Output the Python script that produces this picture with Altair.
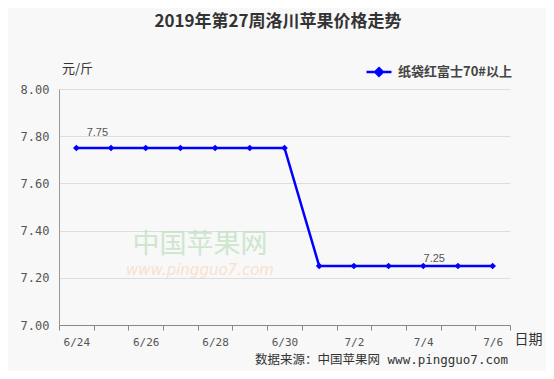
import altair as alt
import pandas as pd

dates = ["6/24", "6/25", "6/26", "6/27", "6/28", "6/29", "6/30",
         "7/1", "7/2", "7/3", "7/4", "7/5", "7/6"]
prices = [7.75, 7.75, 7.75, 7.75, 7.75, 7.75, 7.75,
          7.25, 7.25, 7.25, 7.25, 7.25, 7.25]
value_labels = ["7.75", "", "", "", "", "", "", "", "", "", "7.25", "", ""]
series_name = "纸袋红富士70#以上"
y_ticks = [7.0, 7.2, 7.4, 7.6, 7.8, 8.0]

title_text = "2019年第27周洛川苹果价格走势"
source_text = "数据来源：中国苹果网 www.pingguo7.com"
wm_cn = "中国苹果网"
wm_url = "www.pingguo7.com"

df = pd.DataFrame({"date": dates, "price": prices, "label": value_labels,
                   "series": [series_name] * len(dates)})

BLUE = "#0000ff"
CJK = "Noto Sans CJK SC"
MONO = "DejaVu Sans Mono"

x_enc = alt.X(
    "date:N", sort=dates, bandPosition=0.5,
    scale=alt.Scale(type="band", paddingInner=0, paddingOuter=0),
    axis=alt.Axis(
        title="日期", titleX=469, titleY=14, titleAngle=0,
        titleAlign="center", titleBaseline="middle",
        titleFont=CJK, titleFontSize=14, titleFontWeight="normal", titleColor="#333",
        labelAngle=0, labelFont=MONO, labelFontSize=11, labelColor="#555",
        labelPadding=6,
        labelExpr="toNumber(split(datum.value, '/')[1]) % 2 === 0 ? datum.label : ''",
        tickBand="extent", tickSize=5, tickColor="#888",
        domainColor="#888", grid=False,
    ),
)
y_enc = alt.Y(
    "price:Q",
    scale=alt.Scale(domain=[7.0, 8.0], nice=False, zero=False),
    axis=alt.Axis(
        values=y_ticks, format=".2f",
        title="元/斤", titleX=18, titleY=-21, titleAngle=0,
        titleAlign="center", titleBaseline="middle",
        titleFont=CJK, titleFontSize=13, titleFontWeight="normal", titleColor="#333",
        labelFont=MONO, labelFontSize=12, labelColor="#555", labelPadding=10,
        ticks=False, domainColor="#999", gridColor="#dddddd",
    ),
)

color_enc = alt.Color(
    "series:N",
    scale=alt.Scale(domain=[series_name], range=[BLUE]),
    legend=alt.Legend(
        title=None, orient="none", legendX=306, legendY=-31,
        symbolType="M-1,0L1,0M0,-0.3L0.3,0L0,0.3L-0.3,0Z",
        symbolSize=625, symbolStrokeWidth=2.5,
        symbolFillColor=BLUE, symbolStrokeColor=BLUE,
        labelFont=CJK, labelFontSize=13, labelFontWeight="bold",
        labelColor="#444", labelOffset=5,
    ),
)

base = alt.Chart(df).encode(x=x_enc, y=y_enc)

line = base.mark_line(strokeWidth=2.5).encode(color=color_enc)
points = base.mark_point(shape="diamond", filled=True, size=45, opacity=1).encode(color=color_enc)

lab1 = base.transform_filter(alt.datum.date == "6/24").mark_text(
    font="Liberation Sans", fontSize=11, color="#555", dx=21, dy=-15
).encode(text="label:N")
lab2 = base.transform_filter(alt.datum.date == "7/4").mark_text(
    font="Liberation Sans", fontSize=11, color="#555", dx=11, dy=-7
).encode(text="label:N")

one = pd.DataFrame({"t": [0]})
title_layer = alt.Chart(one).mark_text(
    text=title_text, font=CJK, fontSize=17, fontWeight="bold", color="#333",
    align="center", baseline="middle"
).encode(x=alt.value(219), y=alt.value(-67))
source_layer = alt.Chart(one).mark_text(
    text=source_text, font=MONO + ", " + CJK, fontSize=12.5, color="#333",
    align="right", baseline="middle"
).encode(x=alt.value(449), y=alt.value(271))
wm1 = alt.Chart(one).mark_text(
    text=wm_cn, font=CJK, fontSize=27, color="#c4e2c4", opacity=0.8,
    align="center", baseline="middle"
).encode(x=alt.value(141), y=alt.value(156))
wm2 = alt.Chart(one).mark_text(
    text=wm_url, font="DejaVu Sans", fontSize=15, fontStyle="italic", color="#f8dcc4",
    opacity=0.8, align="center", baseline="middle"
).encode(x=alt.value(141), y=alt.value(181))

chart = alt.layer(wm1, wm2, line, points, lab1, lab2, title_layer, source_layer).properties(
    width=451, height=236, background="#f8f8f8",
    padding={"left": 51, "top": 81, "right": 36, "bottom": 46},
    autosize=alt.AutoSizeParams(type="none"),
).configure_view(stroke=None)

chart.save("out.html", embed_options={"renderer": "svg", "actions": False})
